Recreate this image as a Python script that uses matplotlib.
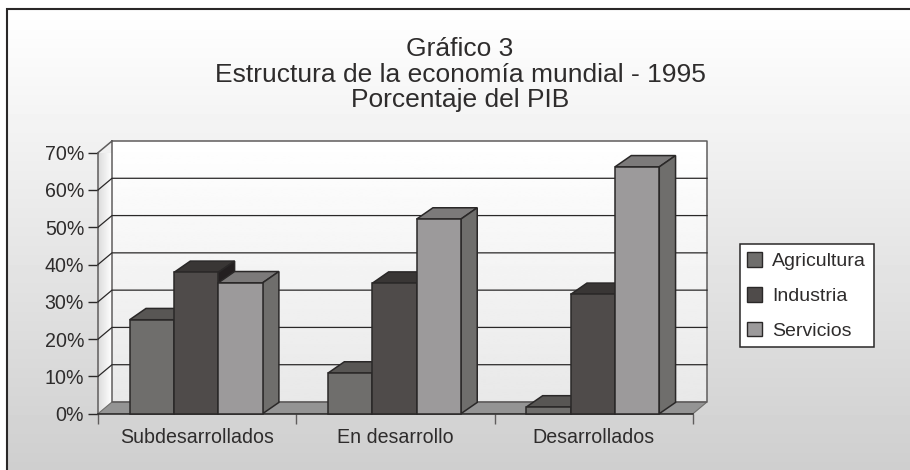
#!/usr/bin/env python3
"""Gráfico 3: estructura de la economía mundial, fake-3D column chart."""

import matplotlib

matplotlib.use("Agg")

import matplotlib.pyplot as plt
import numpy as np
from matplotlib.patches import Patch, Polygon, Rectangle

plt.rcParams["font.family"] = ["Liberation Sans", "DejaVu Sans"]

CATEGORIES = ["Subdesarrollados", "En desarrollo", "Desarrollados"]
SERIES = ["Agricultura", "Industria", "Servicios"]
AGRICULTURA = [25.2, 10.9, 1.8]
INDUSTRIA = [37.9, 35.0, 32.0]
SERVICIOS = [35.1, 52.2, 66.2]
Y_TICKS = [0, 10, 20, 30, 40, 50, 60, 70]
TITLE = "Gráfico 3\nEstructura de la economía mundial - 1995\nPorcentaje del PIB"

W, H = 910, 470
LEFT, RIGHT, TOP, BOTTOM = 98, 693, 152.7, 413.7
TEXT = "#2e2c2c"
LINE = "#2a2828"

# front, top, side colours per series
COLORS = {
    "Agricultura": ("#6f6e6c", "#585654", "#585654"),
    "Industria": ("#4f4b4a", "#393635", "#231f20"),
    "Servicios": ("#9c9a9b", "#7c7a7a", "#6f6e6c"),
}


def gradient(ax, extent, top, bottom, **kwargs):
    ramp = np.linspace(top, bottom, 128)
    ax.imshow(ramp[:, None], extent=extent, cmap="gray", vmin=0, vmax=1, aspect="auto",
              interpolation="bilinear", **kwargs)


def draw_bar(ax, x, width, value, colors, dx, dy):
    front, top, side = colors
    style = {"edgecolor": LINE, "linewidth": 1.1, "clip_on": False, "zorder": 5}
    ax.add_patch(Polygon([(x, value), (x + dx, value + dy),
                          (x + width + dx, value + dy), (x + width, value)],
                         facecolor=top, **style))
    ax.add_patch(Polygon([(x + width, 0), (x + width + dx, dy),
                          (x + width + dx, value + dy), (x + width, value)],
                         facecolor=side, **style))
    ax.add_patch(Rectangle((x, 0), width, value, facecolor=front, **style))


def main():
    fig = plt.figure(figsize=(W / 100, H / 100), dpi=100, facecolor="white")

    bg = fig.add_axes([0, 0, 1, 1], zorder=0)
    bg.set_axis_off()
    gradient(bg, (6, W, H, 9), 1.0, 0.81)
    bg.set_xlim(0, W)
    bg.set_ylim(H, 0)
    bg.plot([6.5, 6.5, W], [H, 9, 9], color=LINE, lw=1.5, solid_joinstyle="miter")

    ax = fig.add_axes([LEFT / W, 1 - BOTTOM / H, (RIGHT - LEFT) / W, (BOTTOM - TOP) / H],
                      zorder=1)
    ax.patch.set_alpha(0)

    # depth of the back wall and of the columns, in data units
    x_per_px = 3 / (RIGHT - LEFT)
    y_per_px = 70 / (BOTTOM - TOP)
    wall_dx, wall_dy = 14 * x_per_px, 11.7 * y_per_px
    bar_dx, bar_dy = 16.3 * x_per_px, 11.3 * y_per_px

    gradient(ax, (wall_dx, 3 + wall_dx, wall_dy, 70 + wall_dy), 1.0, 0.91,
             clip_on=False, zorder=1)
    side_wall = ax.imshow(np.linspace(0.86, 1.0, 64)[None, :],
                          extent=(0, wall_dx, 0, 70 + wall_dy),
                          cmap="gray", vmin=0, vmax=1, aspect="auto", zorder=1)
    side_wall.set_clip_path(Polygon([(0, 0), (wall_dx, wall_dy), (wall_dx, 70 + wall_dy), (0, 70)],
                                    transform=ax.transData))

    ax.add_patch(Polygon([(0, 0), (wall_dx, wall_dy), (3 + wall_dx, wall_dy), (3, 0)],
                         facecolor="#949494", edgecolor="#6f6e6c", linewidth=0.8,
                         clip_on=False, zorder=2))
    ax.plot([0, wall_dx, 3 + wall_dx, 3 + wall_dx, wall_dx, wall_dx],
            [70, 70 + wall_dy, 70 + wall_dy, wall_dy, wall_dy, 70 + wall_dy],
            color="#5f5d5d", lw=1.1, clip_on=False, zorder=3)

    for tick in Y_TICKS[1:-1]:
        ax.plot([0, wall_dx, 3 + wall_dx], [tick, tick + wall_dy, tick + wall_dy],
                color=LINE, lw=0.9, clip_on=False, zorder=3)

    bar_w = 44.3 * x_per_px
    offset = 31.7 * x_per_px
    values = [AGRICULTURA, INDUSTRIA, SERVICIOS]
    for cat in range(len(CATEGORIES)):
        # left to right, so each column's front covers its neighbour's side
        for i in range(len(SERIES)):
            draw_bar(ax, cat + offset + i * bar_w, bar_w, values[i][cat],
                     COLORS[SERIES[i]], bar_dx, bar_dy)

    ax.set_xlim(0, 3)
    ax.set_ylim(0, 70)
    ax.set_yticks(Y_TICKS)
    ax.set_yticklabels([f"{t}%" for t in Y_TICKS], fontsize=14.1, color=TEXT)
    ax.set_xticks([0, 1, 2, 3])
    ax.set_xticklabels([])
    ax.set_xticks([0.5, 1.5, 2.5], minor=True)
    ax.set_xticklabels(CATEGORIES, minor=True, fontsize=14.1, color=TEXT)
    ax.tick_params(axis="y", length=7, width=1.0, color=LINE, pad=3)
    ax.tick_params(axis="x", which="major", length=7, width=1.0, color="#5f5d5d")
    ax.tick_params(axis="x", which="minor", length=0, pad=10)
    for name in ("top", "right"):
        ax.spines[name].set_visible(False)
    ax.spines["left"].set_color("#5f5d5d")
    ax.spines["bottom"].set_color(LINE)
    ax.spines["left"].set_linewidth(1.1)
    ax.spines["bottom"].set_linewidth(1.1)

    handles = [Patch(facecolor=COLORS[s][0], edgecolor=LINE, linewidth=1.0, label=s)
               for s in SERIES]
    legend = ax.legend(handles=handles, loc="upper left",
                       bbox_to_anchor=(739.5 / W, 1 - 244.3 / H), bbox_transform=fig.transFigure,
                       borderaxespad=0, fontsize=14, frameon=True, fancybox=False, framealpha=1,
                       edgecolor=LINE, handlelength=0.77, handleheight=0.8,
                       handletextpad=0.5, labelspacing=0.85, borderpad=0.4, labelcolor=TEXT)
    legend.get_frame().set_linewidth(1.1)

    fig.text(460 / W, 1 - 74.5 / H, TITLE, ha="center", va="center", fontsize=19,
             color=TEXT, linespacing=1.08)

    fig.savefig("out.png", dpi=100)
    plt.close(fig)


if __name__ == "__main__":
    main()
